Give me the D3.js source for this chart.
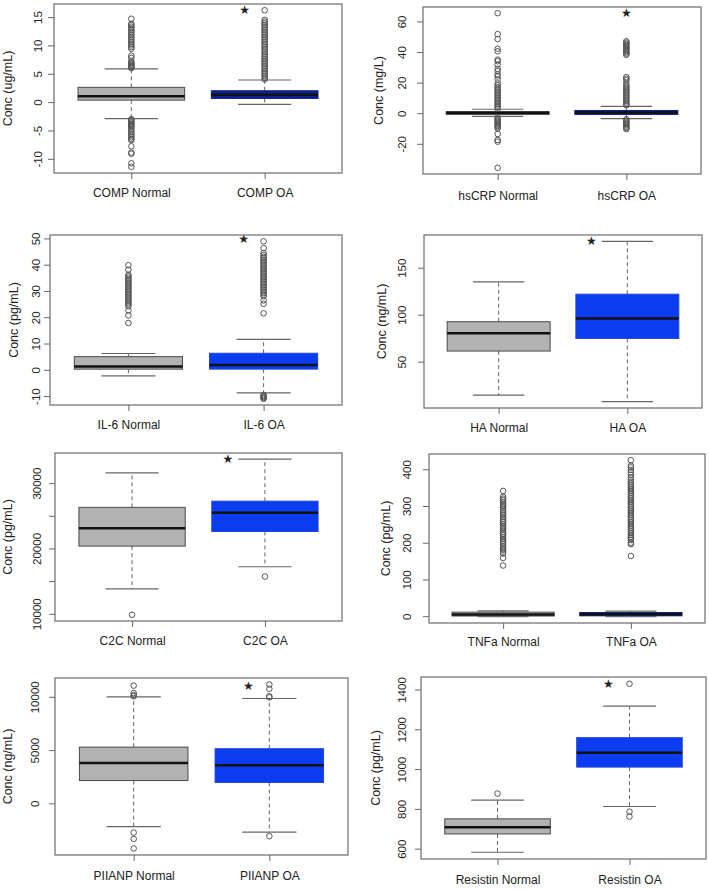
<!DOCTYPE html>
<html>
<head>
<meta charset="utf-8">
<script src="https://cdn.jsdelivr.net/npm/d3@7"></script>
<style>
  body { margin: 0; background: #fff; }
  svg { display: block; }
  text { font-family: "Liberation Sans", Arial, sans-serif; fill: #222; }
</style>
</head>
<body>
<svg id="chart" width="709" height="889"></svg>
<script>
// ---- data ----
const markers = ['COMP', 'hsCRP', 'IL-6', 'HA', 'C2C', 'TNFa', 'PIIANP', 'Resistin']
const units = ['ug/mL', 'mg/L', 'pg/mL', 'ng/mL', 'pg/mL', 'pg/mL', 'ng/mL', 'pg/mL']
const groups = ['Normal', 'OA']

// [lower whisker, q1, median, q3, upper whisker]
const normalStats = [
  [-2.9, 0.35, 1.05, 2.6, 5.85],
  [-2.1, -0.8, 0.3, 1.0, 2.6],
  [-2.3, 0.25, 1.25, 5.0, 6.2],
  [14.3, 61.3, 80.3, 92.5, 135],
  [13820, 20360, 23100, 26290, 31570],
  [-1.5, 0.5, 4.5, 11, 14.5],
  [-2180, 2140, 3780, 5280, 10000],
  [582, 674, 708, 750, 844]
]
const oaStats = [
  [-0.4, 0.65, 1.3, 2.0, 3.9],
  [-3.5, -0.8, 0.5, 1.8, 4.5],
  [-8.8, 0.25, 1.8, 6.3, 11.6],
  [7.5, 74.7, 96, 121.8, 178],
  [17200, 22600, 25450, 27240, 33660],
  [-1.5, 1, 5, 10, 14],
  [-2700, 1960, 3570, 5130, 9840],
  [812, 1010, 1082, 1158, 1316]
]

const normalOutliers = [
  [6.0, 6.15, 6.3, 6.45, 6.6, 6.8, 7.0, 7.2, 7.8, 8.2, 9.4, 9.7, 10.0, 10.3, 10.6, 10.9, 11.2, 11.5, 11.8,
   12.1, 12.4, 12.7, 13.0, 13.3, 13.6, 13.8, 14.7,
   -3.0, -3.2, -3.4, -3.6, -3.8, -4.0, -4.2, -4.4, -4.7, -5.0, -5.3, -5.6, -5.9, -6.2, -6.5, -6.7,
   -7.8, -8.9, -9.1, -10.8, -11.4],
  [65.4, 51.7, 48.5, 42.2, 40.5, 35.0, 34.0, 31.8, 29.0, 27.5, 25.3, 24.0, 22.0, 19.5, 18.2, 17.0,
   16.0, 15.0, 14.0, 13.0, 12.0, 11.0, 10.0, 9.0, 8.0, 7.0, 6.0, 5.0, 4.0, 3.0,
   -2.8, -3.6, -4.4, -5.2, -6.0, -6.8, -7.6, -8.4, -9.2, -10.0, -13.6, -17.5, -18.6, -35.7],
  [17.8, 20.7, 22.6, 24.2, 24.8, 25.4, 26.0, 26.6, 27.2, 27.8, 28.4, 29.0, 29.6, 30.2, 30.8, 31.4,
   32.0, 32.6, 33.2, 33.8, 34.4, 35.0, 35.6, 36.2, 38.1, 39.8],
  [],
  [9850],
  [138, 158.6, 170.6, 176, 181, 185, 190, 196, 201, 205, 210, 215, 221, 225, 230, 236, 240, 245, 250,
   256, 260, 265, 270, 276, 280, 285, 290, 296, 300, 305, 310, 316, 320, 325, 341],
  [10050, 10150, 10350, 11050, -2740, -3330, -4230],
  [877]
]
const oaOutliers = [
  [4.0, 4.3, 4.6, 4.9, 5.2, 5.5, 5.8, 6.1, 6.4, 6.7, 7.0, 7.3, 7.6, 7.9, 8.2, 8.5, 8.8, 9.1, 9.4, 9.7,
   10.0, 10.3, 10.6, 10.9, 11.2, 11.5, 11.8, 12.1, 12.4, 12.7, 13.0, 13.3, 13.6, 13.9, 14.2, 14.5, 16.2],
  [47.0, 46.2, 45.4, 44.6, 43.8, 43.0, 42.2, 41.4, 40.6, 39.8, 39.0, 38.2, 23.6, 22.5, 21.5, 19.5, 18.0,
   17.0, 16.0, 15.0, 14.0, 13.0, 12.0, 11.0, 10.0, 9.0, 8.0, 7.0, 6.0, 5.2,
   -4.0, -4.8, -5.6, -6.4, -7.2, -8.0, -8.8, -9.6, -10.4],
  [21.5, 25.1, 26.4, 28.0, 28.6, 29.2, 29.8, 30.4, 31.0, 31.6, 32.2, 32.8, 33.4, 34.0, 34.6, 35.2, 35.8,
   36.4, 37.0, 37.6, 38.2, 38.8, 39.4, 40.0, 40.6, 41.2, 41.8, 42.4, 43.0, 43.6, 44.4, 46.3, 48.9,
   -9.6, -10.0, -10.4, -10.8, -11.0],
  [],
  [15700],
  [164, 196, 200, 207, 212, 216, 221, 226, 231, 236, 241, 246, 251, 256, 261, 266, 271, 276, 281, 286,
   291, 296, 301, 306, 311, 316, 321, 326, 331, 336, 341, 346, 351, 356, 361, 366, 371, 377,
   385, 392, 398, 405, 410, 424.5],
  [9950, 10050, 10750, 11150, -3080],
  [1429, 786, 761]
]

// significance star (y value), null = none
const starValues = [16.2, 65.8, 49.9, 178, 33700, null, 11050, 1429]

const yTicks = [
  [-10, -5, 0, 5, 10, 15],
  [-20, 0, 20, 40, 60],
  [-10, 0, 10, 20, 30, 40, 50],
  [50, 100, 150],
  [10000, 15000, 20000, 25000, 30000],
  [0, 100, 200, 300, 400],
  [0, 5000, 10000],
  [600, 800, 1000, 1200, 1400]
]
const yTickLabels = [
  ['-10', '-5', '0', '5', '10', '15'],
  ['-20', '0', '20', '40', '60'],
  ['-10', '0', '10', '20', '30', '40', '50'],
  ['50', '100', '150'],
  ['10000', '', '20000', '', '30000'],
  ['0', '100', '200', '300', '400'],
  ['0', '5000', '10000'],
  ['600', '800', '1000', '1200', '1400']
]

// ---- layout (plot frames, label offsets) ----
const layout = [
  { x0: 54, x1: 342, y0: 4, y1: 173, tick: 16, title: 46, lab: 193, star: -20, oa: 'navy' },
  { x0: 423, x1: 701, y0: 7, y1: 174, tick: 21, title: 44, lab: 196, star: 0, oa: 'navy' },
  { x0: 50, x1: 342, y0: 235, y1: 405, tick: 14, title: 36, lab: 425, star: -20, oa: 'blue' },
  { x0: 424, x1: 702, y0: 235, y1: 408, tick: 22, title: 42, lab: 428, star: -36, oa: 'blue' },
  { x0: 55, x1: 342, y0: 453, y1: 621, tick: 18, title: 47, lab: 641, star: -37, oa: 'blue' },
  { x0: 429, x1: 705, y0: 454, y1: 623, tick: 22, title: 43, lab: 642, star: 0, oa: 'navy' },
  { x0: 55, x1: 348, y0: 678, y1: 855, tick: 20, title: 47, lab: 876, star: -21, oa: 'blue' },
  { x0: 421, x1: 706, y0: 677, y1: 859, tick: 19, title: 45, lab: 880, star: -21, oa: 'blue' }
]
const fills = { Normal: '#b2b2b2', blue: '#0b3cf0', navy: '#0e2090' }
const strokes = { Normal: '#4a4a4a', blue: '#2446d4', navy: '#0e1f80' }

const svg = d3.select('#chart')

markers.forEach((marker, i) => {
  const L = layout[i]
  const g = svg.append('g')
  const stats = [normalStats[i], oaStats[i]]
  const outl = [normalOutliers[i], oaOutliers[i]]
  const all = stats[0].concat(stats[1], outl[0], outl[1])
  const ext = d3.extent(all)
  const pad = (ext[1] - ext[0]) * 0.04

  const y = d3.scaleLinear().domain([ext[0] - pad, ext[1] + pad]).range([L.y1, L.y0])
  const x = d3.scalePoint().domain(groups).range([L.x0, L.x1]).padding(0.58)
  const step = x.step()

  groups.forEach((grp, j) => {
    const s = stats[j]
    const cx = x(grp)
    const key = j === 0 ? 'Normal' : L.oa

    // whiskers
    g.selectAll(null)
      .data([[s[3], s[4]], [s[1], s[0]]])
      .enter().append('line')
      .attr('x1', cx).attr('x2', cx)
      .attr('y1', d => y(d[0])).attr('y2', d => y(d[1]))
      .attr('stroke', '#666').attr('stroke-width', 1)
      .attr('stroke-dasharray', '4,3')
    // staples
    g.selectAll(null)
      .data([s[0], s[4]])
      .enter().append('line')
      .attr('x1', cx - step * 0.2).attr('x2', cx + step * 0.2)
      .attr('y1', d => y(d)).attr('y2', d => y(d))
      .attr('stroke', '#666').attr('stroke-width', 1.2)
    // box
    g.append('rect')
      .attr('x', cx - step * 0.4)
      .attr('y', y(s[3]))
      .attr('width', step * 0.8)
      .attr('height', y(s[1]) - y(s[3]))
      .attr('fill', fills[key])
      .attr('stroke', strokes[key])
      .attr('stroke-width', 1)
    // median
    g.append('line')
      .attr('x1', cx - step * 0.4).attr('x2', cx + step * 0.4)
      .attr('y1', y(s[2])).attr('y2', y(s[2]))
      .attr('stroke', '#111').attr('stroke-width', 2.5)
    // outliers
    g.selectAll(null)
      .data(outl[j])
      .enter().append('circle')
      .attr('cx', cx)
      .attr('cy', d => y(d))
      .attr('r', 2.8)
      .attr('fill', 'none')
      .attr('stroke', '#555')
      .attr('stroke-width', 1)
  })

  // star
  if (starValues[i] !== null) {
    g.append('text')
      .attr('x', x('OA') + L.star)
      .attr('y', y(starValues[i]))
      .attr('text-anchor', 'middle')
      .attr('dominant-baseline', 'central')
      .style('font-family', '"DejaVu Sans", sans-serif')
      .style('font-size', '12px')
      .text('\u2605')
  }

  // frame
  g.append('rect')
    .attr('x', L.x0).attr('y', L.y0)
    .attr('width', L.x1 - L.x0).attr('height', L.y1 - L.y0)
    .attr('fill', 'none').attr('stroke', '#777').attr('stroke-width', 1.3)

  // y axis
  const ya = g.append('g')
    .attr('transform', `translate(${L.x0},0)`)
    .call(d3.axisLeft(y).tickValues(yTicks[i]).tickSize(6)
      .tickFormat((d, k) => yTickLabels[i][k]))
  ya.select('.domain').remove()
  ya.selectAll('line').attr('stroke', '#666')
  ya.selectAll('text')
    .attr('transform', 'rotate(-90)')
    .attr('x', 0).attr('y', -L.tick).attr('dy', null)
    .attr('text-anchor', 'middle')
    .attr('dominant-baseline', 'central')
    .style('font-size', '11.5px')
    .attr('fill', '#222')

  // x axis
  const xa = g.append('g')
    .attr('transform', `translate(0,${L.y1})`)
    .call(d3.axisBottom(x).tickSize(6).tickFormat(d => marker + ' ' + d))
  xa.select('.domain').remove()
  xa.selectAll('line').attr('stroke', '#666')
  xa.selectAll('text')
    .attr('y', L.lab - L.y1).attr('dy', null)
    .attr('dominant-baseline', 'central')
    .style('font-size', '12px')
    .attr('fill', '#222')

  // y title
  g.append('text')
    .attr('transform', `translate(${L.x0 - L.title},${(L.y0 + L.y1) / 2}) rotate(-90)`)
    .attr('text-anchor', 'middle')
    .attr('dominant-baseline', 'central')
    .style('font-size', '12.5px')
    .text('Conc (' + units[i] + ')')
})
</script>
</body>
</html>
